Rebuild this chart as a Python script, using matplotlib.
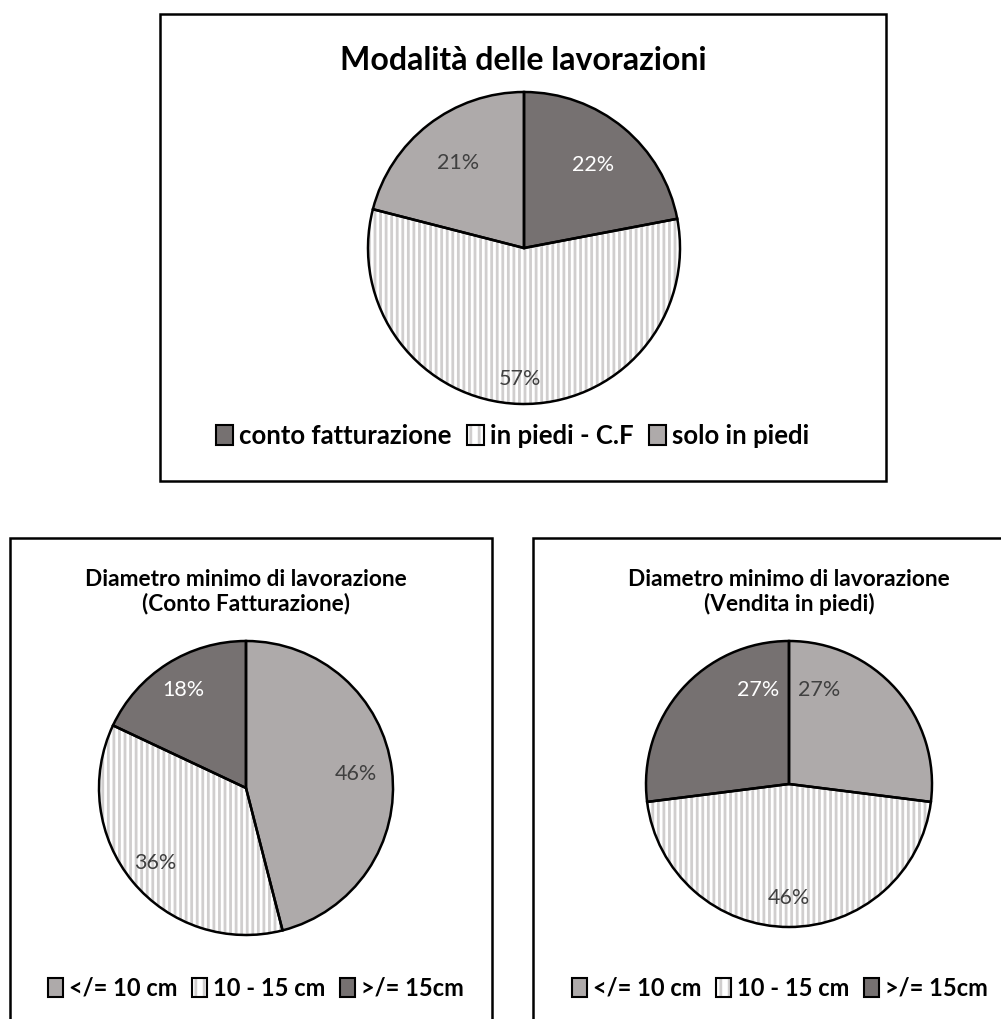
import numpy as np
import matplotlib
matplotlib.use("Agg")
import matplotlib.pyplot as plt
from matplotlib.patches import Rectangle, Patch
from matplotlib.legend_handler import HandlerTuple

# data
mod_labels = ["conto fatturazione", "in piedi - C.F", "solo in piedi"]
mod_values = [22, 57, 21]

diam_labels = ["</= 10 cm", "10 - 15 cm", ">/= 15cm"]
diam_cf_values = [46, 36, 18]
diam_vp_values = [27, 46, 27]

DARK = "#767171"
LIGHT = "#AEAAAA"
STRIPE = "#D0CECE"
TXT = "#404040"

W, H = 1001, 1019
plt.rcParams["font.family"] = ["Lato", "DejaVu Sans"]
plt.rcParams["hatch.linewidth"] = 2.0

fig = plt.figure(figsize=(W / 100, H / 100), dpi=100)


def fx(px):
    return px / W


def fy(py):
    return 1 - py / H


def frame_box(x0, y0, x1, y1):
    fig.add_artist(Rectangle((fx(x0), fy(y1)), fx(x1) - fx(x0), fy(y0) - fy(y1),
                             transform=fig.transFigure, fill=False,
                             edgecolor="black", linewidth=1.8))


def draw_pie(cx, cy, r, values, styles, label_pos):
    ax = fig.add_axes([fx(cx - r), fy(cy + r), 2 * r / W, 2 * r / H])
    wedges, _ = ax.pie(values, startangle=90, counterclock=False, radius=1,
                       colors=["white"] * len(values))
    for w, st in zip(wedges, styles):
        w.set_linewidth(0)
        if st == "hatch":
            w.set_facecolor("white")
            w.set_edgecolor(STRIPE)
            w.set_hatch("|||")
        else:
            w.set_facecolor(st)
            w.set_edgecolor(st)
    # outlines on top
    outl, _ = ax.pie(values, startangle=90, counterclock=False, radius=1,
                     colors=["none"] * len(values),
                     wedgeprops=dict(edgecolor="black", linewidth=1.8, fill=False))
    for w in list(wedges) + list(outl):
        w.set_clip_on(False)
    total = float(sum(values))
    start = 90.0
    for v, st, (dist, ang) in zip(values, styles, label_pos):
        span = 360.0 * v / total
        mid = start - span / 2 if ang is None else ang
        start -= span
        t = np.radians(mid)
        ax.text(dist * np.cos(t), dist * np.sin(t), "%d%%" % round(100 * v / total),
                ha="center", va="center", fontsize=15.5,
                color="white" if st == DARK else TXT)
    ax.set_xlim(-1, 1)
    ax.set_ylim(-1, 1)
    ax.set_aspect("equal")
    ax.axis("off")


def legend_handles(styles):
    hs = []
    for st in styles:
        if st == "hatch":
            hs.append((Patch(facecolor="white", edgecolor=STRIPE, hatch="||", linewidth=0),
                       Patch(facecolor="none", edgecolor="black", linewidth=1.5)))
        else:
            hs.append(Patch(facecolor=st, edgecolor="black", linewidth=1.5))
    return hs


def draw_legend(cx, cy, labels, styles, size):
    fig.legend(legend_handles(styles), labels, loc="center",
               bbox_to_anchor=(fx(cx), fy(cy)), ncol=3, frameon=False,
               handlelength=0.65, handleheight=0.85, handletextpad=0.25,
               columnspacing=0.6, prop=dict(weight="bold", size=size),
               handler_map={tuple: HandlerTuple(ndivide=1)})


# top chart
frame_box(160, 14, 886, 481)
fig.text(fx(523), fy(60), "Modalità delle lavorazioni", ha="center", va="center",
         fontsize=23, fontweight="bold", color="black")
mod_styles = [DARK, "hatch", LIGHT]
draw_pie(524, 248, 156, mod_values, mod_styles, [(0.69, None), (0.84, None), (0.69, None)])
draw_legend(513, 436, mod_labels, mod_styles, 18.5)

# bottom left chart
frame_box(10, 538, 492, 1060)
fig.text(fx(246), fy(592), "Diametro minimo di lavorazione\n(Conto Fatturazione)",
         ha="center", va="center", fontsize=16.3, fontweight="bold", linespacing=1.15)
diam_styles = [LIGHT, "hatch", DARK]
draw_pie(246, 788, 147, diam_cf_values, diam_styles, [(0.75, None), (0.8, None), (0.79, None)])
draw_legend(256, 988, diam_labels, diam_styles, 17)

# bottom right chart
frame_box(533, 538, 1060, 1060)
fig.text(fx(789), fy(592), "Diametro minimo di lavorazione\n(Vendita in piedi)",
         ha="center", va="center", fontsize=16.3, fontweight="bold", linespacing=1.15)
draw_pie(789, 784, 143, diam_vp_values, diam_styles, [(0.69, 72.0), (0.8, None), (0.69, 108.0)])
draw_legend(780, 988, diam_labels, diam_styles, 17)

fig.savefig("out.png", dpi=100, facecolor="white")
